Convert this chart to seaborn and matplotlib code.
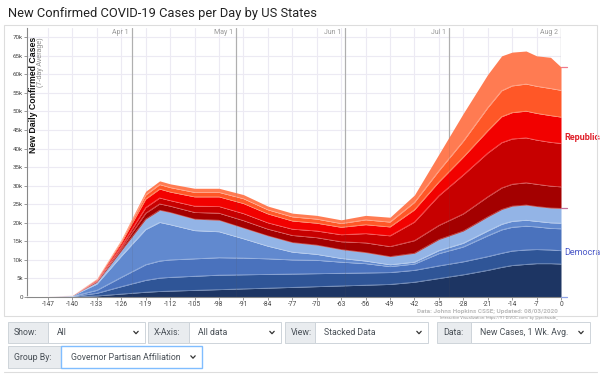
import numpy as np
import matplotlib
matplotlib.use("Agg")
import matplotlib.pyplot as plt
import seaborn as sns
from matplotlib.patches import Rectangle
from matplotlib.lines import Line2D

# ---- data (thousands of new cases per day, 7-day avg), days relative to Aug 2 ----
days = [-153, -140, -133, -126, -119, -115, -112, -105, -98, -91, -84, -77, -70,
        -63, -56, -49, -42, -35, -28, -21, -17, -14, -10, -7, -3, 0]

# Democrat-governed states, bottom -> top
dem_navy  = [0, 0.05, 0.3, 0.8, 1.3, 1.5, 1.6, 1.8, 2.0, 2.2, 2.4, 2.6, 2.8,
             3.0, 3.2, 3.4, 4.0, 5.0, 6.0, 7.2, 8.0, 8.5, 8.8, 9.0, 9.0, 8.9]
dem_dark  = [0, 0.1, 0.7, 2.0, 3.2, 3.6, 3.7, 3.8, 3.9, 3.8, 3.7, 3.6, 3.5,
             3.4, 3.3, 3.2, 3.2, 3.4, 3.5, 3.7, 3.8, 3.9, 3.9, 3.8, 3.7, 3.6]
dem_mid   = [0, 0.05, 0.8, 2.5, 4.2, 4.6, 4.7, 4.7, 4.7, 4.5, 4.2, 3.8, 3.6,
             3.0, 2.5, 1.6, 1.7, 3.3, 4.0, 5.6, 6.3, 6.4, 6.4, 6.1, 5.8, 5.9]
dem_ny    = [0, 0.15, 1.7, 5.7, 9.5, 10.4, 9.5, 7.6, 7.0, 5.2, 3.4, 2.1, 1.6,
             1.0, 0.7, 0.5, 0.5, 0.8, 1.0, 1.3, 1.5, 1.6, 1.6, 1.5, 1.5, 1.5]
dem_light = [0, 0.05, 0.5, 1.5, 2.8, 3.3, 3.3, 3.1, 3.1, 2.9, 2.8, 2.6, 2.5,
             2.4, 2.3, 2.2, 2.4, 3.0, 3.3, 3.8, 4.0, 4.1, 4.1, 4.0, 4.0, 4.0]

# Republican-governed states, bottom -> top
rep_darkred = [0, 0.02, 0.2, 0.6, 1.6, 1.7, 1.7, 1.8, 1.9, 2.0, 1.8, 1.9, 2.0,
               2.1, 2.6, 2.7, 3.4, 3.8, 4.6, 5.4, 5.8, 5.9, 6.0, 6.0, 5.9, 5.8]
rep_crimson = [0, 0.02, 0.2, 0.6, 1.5, 1.6, 1.5, 1.7, 1.8, 1.9, 1.7, 1.7, 1.8,
               1.9, 2.5, 2.9, 5.0, 8.0, 10.5, 11.8, 12.2, 12.2, 12.1, 11.9, 11.8, 11.7]
rep_red     = [0, 0.03, 0.3, 0.9, 2.3, 2.4, 2.3, 2.5, 2.6, 2.7, 2.4, 2.2, 2.1,
               2.0, 2.4, 2.4, 3.3, 3.7, 4.8, 6.0, 7.0, 7.1, 7.2, 7.2, 7.2, 7.1]
rep_orange  = [0, 0.02, 0.15, 0.5, 1.1, 1.2, 1.2, 1.2, 1.2, 1.3, 1.1, 1.1, 1.1,
               1.0, 1.3, 1.3, 2.0, 3.0, 4.3, 6.2, 7.0, 7.2, 7.3, 7.3, 7.3, 7.2]
rep_salmon  = [0, 0.01, 0.15, 0.4, 1.0, 1.0, 1.0, 1.1, 1.1, 1.1, 1.0, 1.0, 1.0,
               1.0, 1.2, 1.3, 2.0, 4.5, 7.5, 9.0, 9.4, 9.1, 8.9, 8.2, 8.4, 6.3]

x_ticks = list(range(-147, 1, 7))
y_ticks = list(range(0, 71, 5))
months = ["Apr 1", "May 1", "Jun 1", "Jul 1", "Aug 2"]
month_days = [-123, -93, -62, -32, 0]

sns.set_theme(style="white")
plt.rcParams["font.family"] = ["Roboto", "DejaVu Sans"]

blues = sns.blend_palette(["#1d3563", "#2f5597", "#4a72bd", "#6088cf", "#93b4e6"], 5)
reds = sns.blend_palette(["#a30000", "#c70000", "#f20000", "#ff5726", "#ff7b52"], 5)

W, H = 600, 375
fig = plt.figure(figsize=(6, 3.75), dpi=100, facecolor="white")


def fx(px):
    return px / W


def fy(py):
    return 1 - py / H


# outer frame
fig.add_artist(Rectangle((fx(4), fy(316)), fx(593) - fx(0), (316 - 25) / H,
                         transform=fig.transFigure, fill=False, ec="#dddddd", lw=0.8))

ax = fig.add_axes([fx(27), fy(297), (561 - 27) / W, (297 - 28) / H])
ax.set_facecolor("white")

layers = [dem_navy, dem_dark, dem_mid, dem_ny, dem_light,
          rep_darkred, rep_crimson, rep_red, rep_orange, rep_salmon]
ax.stackplot(days, *layers, colors=list(blues) + list(reds), lw=0, zorder=2)

# faint state boundaries
cum = np.cumsum(np.array(layers), axis=0)
for row in cum[:-1]:
    ax.plot(days, row, color="white", lw=0.5, alpha=0.35, zorder=3)

ax.set_xlim(-153, 0)
ax.set_ylim(0, 72.5)
ax.set_xticks(x_ticks)
ax.set_xticklabels([str(t) for t in x_ticks], fontsize=4.8, color="#444")
ax.set_yticks(y_ticks)
ax.set_yticklabels(["0"] + [f"{t}k" for t in y_ticks[1:]], fontsize=4.5, color="#444")
ax.tick_params(axis="both", length=2, width=0.6, color="#888", pad=0.8,
               left=True, bottom=True)
ax.grid(True, color="#eceaf3", lw=0.8, zorder=0)
ax.set_axisbelow(True)
for s in ["top", "right"]:
    ax.spines[s].set_visible(False)
for s in ["left", "bottom"]:
    ax.spines[s].set_color("#888")
    ax.spines[s].set_linewidth(0.8)

for d, m in zip(month_days, months):
    ax.axvline(d, color="#bbbbbb", lw=0.9, zorder=1)
    ax.axvline(d, color="#555555", lw=0.7, alpha=0.12, zorder=4)
    ax.text(d - 0.9, 71.4, m, ha="right", va="center", fontsize=5, color="#999")

# right-hand group labels and markers
total_end = cum[-1][-1]
dem_end = cum[4][-1]
for val, col in [(total_end, "#f07a8a"), (dem_end, "#c0709a"), (0, "#8fa3e6")]:
    ax.plot([0, 1.6], [val, val], color=col, lw=0.9, clip_on=False, zorder=5)
ax.text(0.9, (total_end + dem_end) / 2, "Republican", color="#e0202a", fontsize=6.5,
        fontweight="bold", va="center", ha="left", clip_on=False)
ax.text(0.9, dem_end / 2, "Democrat", color="#4a58c8", fontsize=6.5,
        va="center", ha="left", clip_on=False)

# axis label inside the plot
fig.text(fx(33), fy(37), "New Daily Confirmed Cases", rotation=90, ha="center",
         va="top", fontsize=6.3, fontweight="bold", color="#111",
         family=["Liberation Sans", "DejaVu Sans"])
fig.text(fx(40), fy(37), "(7-day Average)", rotation=90, ha="center", va="top",
         fontsize=5, color="#888", family=["Liberation Sans", "DejaVu Sans"])

fig.text(fx(8), fy(13), "New Confirmed COVID-19 Cases per Day by US States",
         fontsize=9.3, va="center", ha="left", color="#222")

fig.text(fx(558), fy(312), "Data: Johns Hopkins CSSE; Updated: 08/03/2020",
         fontsize=4.6, fontweight="bold", color="#bbbbbb", ha="right", va="center")
fig.text(fx(558), fy(318), "Interactive Visualization: https://91-DIVOC.com/ by @profwade_",
         fontsize=3.0, color="#999", ha="right", va="center")


# ---- control bar below the chart ----
def box(x0, x1, y0, y1, fc, ec="#ced4da", lw=0.7):
    fig.add_artist(Rectangle((fx(x0), fy(y1)), (x1 - x0) / W, (y1 - y0) / H,
                             transform=fig.transFigure, fc=fc, ec=ec, lw=lw))


def chevron(xc, yc):
    fig.add_artist(Line2D([fx(xc - 2.2), fx(xc), fx(xc + 2.2)],
                          [fy(yc - 1.2), fy(yc + 1.2), fy(yc - 1.2)],
                          transform=fig.transFigure, color="#333", lw=0.9))


controls = [
    ("Show:", 8, 48, 145, "All"),
    ("X-Axis:", 148, 189, 281, "All data"),
    ("View:", 285, 315, 428, "Stacked Data"),
    ("Data:", 437, 471, 590, "New Cases, 1 Wk. Avg."),
]
for label, x0, x1, x2, val in controls:
    y0, y1 = 322, 343
    box(x0, x1, y0, y1, "#e9ecef")
    box(x1, x2, y0, y1, "white")
    fig.text(fx(x0 + 6), fy((y0 + y1) / 2), label, fontsize=6.3, color="#495057", va="center")
    fig.text(fx(x1 + 9), fy((y0 + y1) / 2), val, fontsize=6.3, color="#495057", va="center")
    chevron(x2 - 9, (y0 + y1) / 2)

y0, y1 = 346, 368
box(8, 61, y0, y1, "#e9ecef")
box(61, 202, y0, y1, "white", ec="#80bdff", lw=1.0)
fig.text(fx(14), fy((y0 + y1) / 2), "Group By:", fontsize=6.3, color="#495057", va="center")
fig.text(fx(71), fy((y0 + y1) / 2), "Governor Partisan Affiliation", fontsize=6.3,
         color="#495057", va="center")
chevron(193, (y0 + y1) / 2)
fig.add_artist(Line2D([fx(4), fx(597)], [fy(372), fy(372)], transform=fig.transFigure,
                      color="#dddddd", lw=0.8))

fig.savefig("out.png", dpi=100, facecolor="white")
